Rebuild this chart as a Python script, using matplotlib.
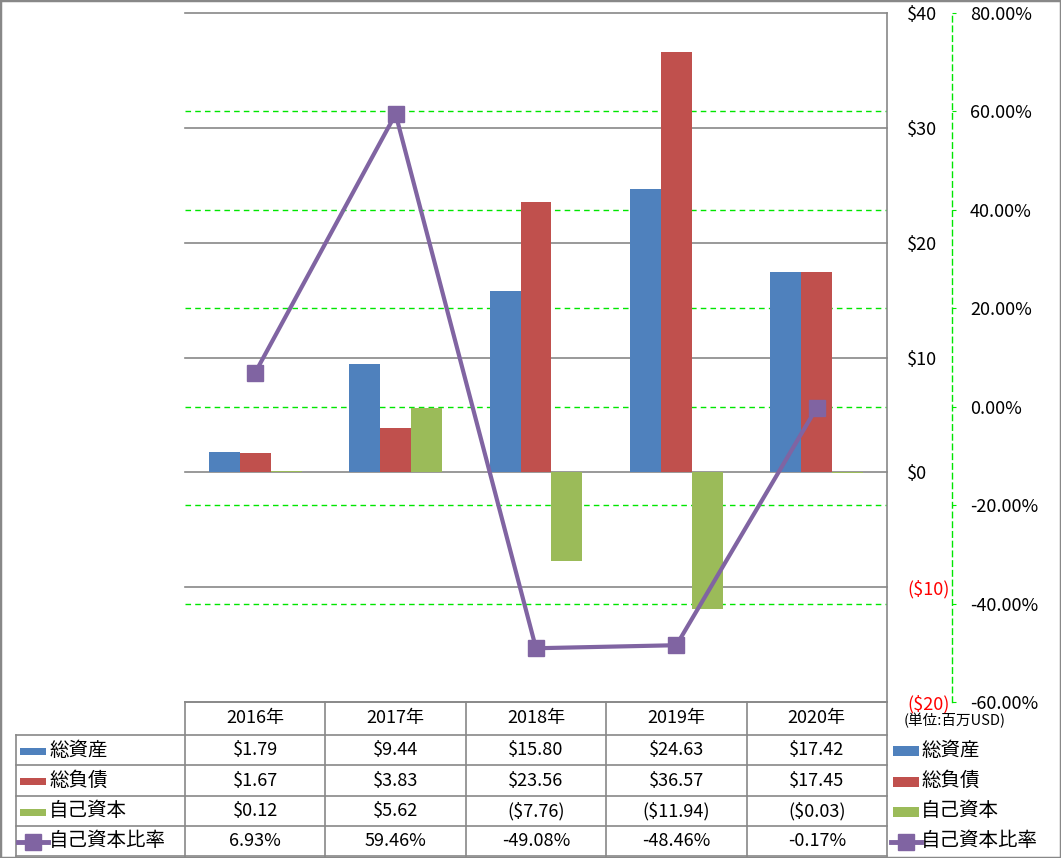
import matplotlib
matplotlib.use('Agg')
import matplotlib.pyplot as plt
from matplotlib.patches import Rectangle
from matplotlib.lines import Line2D

plt.rcParams['font.family'] = ['Noto Sans CJK JP', 'DejaVu Sans']

years = ['2016年', '2017年', '2018年', '2019年', '2020年']
total_assets = [1.79, 9.44, 15.80, 24.63, 17.42]
total_liab = [1.67, 3.83, 23.56, 36.57, 17.45]
equity = [0.12, 5.62, -7.76, -11.94, -0.03]
equity_ratio = [6.93, 59.46, -49.08, -48.46, -0.17]

series_names = ['総資産', '総負債', '自己資本', '自己資本比率']
colors = ['#4F81BD', '#C0504D', '#9BBB59', '#8064A2']

usd_ticks = [-20, -10, 0, 10, 20, 30, 40]
pct_ticks = [-60, -40, -20, 0, 20, 40, 60, 80]

W, H = 1061, 858
fig = plt.figure(figsize=(W / 100, H / 100), dpi=100)

# plot area in pixels
px_left, px_right, px_top, px_bottom = 185, 887, 13, 702
rect = [px_left / W, 1 - px_bottom / H, (px_right - px_left) / W, (px_bottom - px_top) / H]

ax = fig.add_axes(rect)
ax_pct = ax.twinx()
ax_line = ax.twinx()

# percent axis with green dashed grid sits behind the bars
ax_pct.set_zorder(0)
ax.set_zorder(1)
ax_line.set_zorder(2)
ax.patch.set_visible(False)
ax_line.patch.set_visible(False)

x = list(range(len(years)))
bw = 0.22
grey = '#888888'
green = '#00e600'
fs = 13

# grid lines: grey solid for $ ticks, green dashed for inner % ticks
for t in usd_ticks:
    ax.axhline(t, color=grey, linewidth=1.2, zorder=1, clip_on=False)
for t in pct_ticks[1:-1]:
    ax_pct.axhline(t, color=green, linestyle=(0, (4, 3)), linewidth=1)

for vals, off, c in zip([total_assets, total_liab, equity], [-bw, 0, bw], colors[:3]):
    ax.bar([i + off for i in x], vals, width=bw, color=c, zorder=3)

ax.set_xlim(-0.5, len(years) - 0.5)
ax.set_ylim(-20, 40)
ax.yaxis.tick_right()
ax.set_yticks(usd_ticks, ['$%d' % t if t >= 0 else '($%d)' % -t for t in usd_ticks])
for t, lab in zip(usd_ticks, ax.get_yticklabels()):
    lab.set_color('#ff0000' if t < 0 else 'black')
ax.tick_params(axis='y', length=0, pad=14.5, labelsize=fs)
ax.set_xticks([])
for s in ['left', 'top', 'bottom']:
    ax.spines[s].set_visible(False)
ax.spines['right'].set_color(grey)
ax.spines['right'].set_linewidth(1.2)

ax_pct.set_ylim(-60, 80)
ax_pct.set_xlim(-0.5, len(years) - 0.5)
ax_pct.set_yticks(pct_ticks, ['%.2f%%' % t for t in pct_ticks])
for t, lab in zip(pct_ticks, ax_pct.get_yticklabels()):
    lab.set_color('#ff0000' if t < 0 else 'black')
ax_pct.tick_params(axis='y', direction='out', length=3, color=green, pad=10, labelsize=fs)
ax_pct.set_xticks([])
for s in ['left', 'top', 'bottom']:
    ax_pct.spines[s].set_visible(False)
ax_pct.spines['right'].set_position(('outward', 65 * 0.72))
ax_pct.spines['right'].set_color(green)
ax_pct.spines['right'].set_linestyle((0, (4, 3)))
ax_pct.spines['right'].set_linewidth(1)

ax_line.plot(x, equity_ratio, color=colors[3], linewidth=3, marker='s',
             markersize=12, markerfacecolor=colors[3], markeredgecolor=colors[3])
ax_line.set_ylim(-60, 80)
ax_line.set_xlim(-0.5, len(years) - 0.5)
ax_line.axis('off')

# data table below the chart, drawn in pixel coordinates
tab = fig.add_axes([0, 0, 1, 1], zorder=5)
tab.set_xlim(0, W)
tab.set_ylim(H, 0)
tab.axis('off')
tab.patch.set_visible(False)

col_w = (px_right - px_left) / len(years)
edges = [px_left + i * col_w for i in range(len(years) + 1)]
row_lines = [702, 735, 765, 796, 826, 856]
row_centers = [(a + b) / 2 for a, b in zip(row_lines[:-1], row_lines[1:])]
lw = 1.2

tab.plot([px_left, px_right], [row_lines[0]] * 2, color=grey, lw=lw)
for yl in row_lines[1:]:
    tab.plot([16, px_right], [yl, yl], color=grey, lw=lw)
tab.plot([16, 16], [row_lines[1], row_lines[-1]], color=grey, lw=lw)
for xe in edges:
    tab.plot([xe, xe], [row_lines[0], row_lines[-1]], color=grey, lw=lw)


def money(v):
    return '$%.2f' % v if v >= 0 else '($%.2f)' % -v


rows = [[money(v) for v in total_assets],
        [money(v) for v in total_liab],
        [money(v) for v in equity],
        ['%.2f%%' % v for v in equity_ratio]]

for i, yr in enumerate(years):
    cx = (edges[i] + edges[i + 1]) / 2
    tab.text(cx, row_centers[0], yr, ha='center', va='center', fontsize=fs)
    for r, row in enumerate(rows):
        tab.text(cx, row_centers[r + 1], row[i], ha='center', va='center', fontsize=fs)


def legend_key(x0, yc, idx, h):
    if idx < 3:
        tab.add_patch(Rectangle((x0, yc - h / 2), 26, h, color=colors[idx], lw=0))
    else:
        tab.add_line(Line2D([x0 - 2, x0 + 13, x0 + 28], [yc, yc, yc], color=colors[3], lw=3.5,
                            marker='s', markersize=11, markevery=[1],
                            markerfacecolor=colors[3], markeredgecolor=colors[3]))


for r, name in enumerate(series_names):
    yc = row_centers[r + 1]
    legend_key(20, yc + 1, r, 7)
    tab.text(49, yc, name, ha='left', va='center', fontsize=14)
    legend_key(893, yc + 1, r, 10)
    tab.text(921, yc, name, ha='left', va='center', fontsize=14)

tab.text(904, 721, '(単位:百万USD)', ha='left', va='center', fontsize=10.5)

# outer border
fig.patches.append(Rectangle((0, 0), 1, 1, transform=fig.transFigure, fill=False,
                             edgecolor=grey, linewidth=2.5))

fig.savefig('out.png', dpi=100)
